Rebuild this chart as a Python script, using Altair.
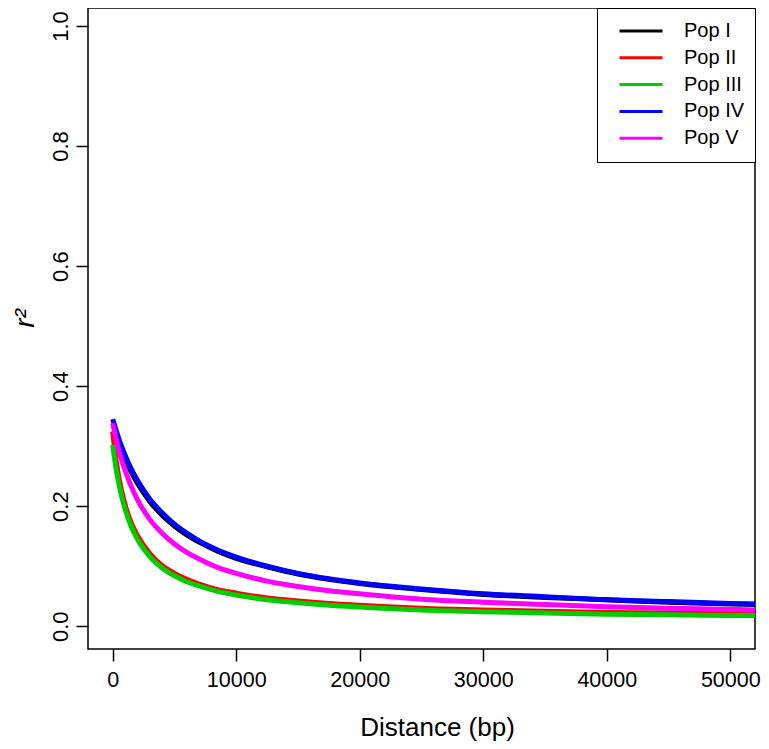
import altair as alt
import pandas as pd

distance = [0, 250, 500, 1000, 1500, 2000, 3000, 4000, 5000, 6000, 7000, 8500,
            10000, 12500, 15000, 17500, 20000, 25000, 30000, 35000, 40000, 45000,
            50000, 52000]
pop_i = [0.325, 0.314, 0.302, 0.279, 0.257, 0.238, 0.208, 0.185, 0.167, 0.152, 0.140, 0.125,
         0.113, 0.099, 0.087, 0.078, 0.071, 0.061, 0.053, 0.048, 0.044, 0.040, 0.037, 0.036]
pop_ii = [0.324, 0.280, 0.248, 0.203, 0.172, 0.151, 0.121, 0.101, 0.088, 0.078, 0.070, 0.061,
          0.055, 0.047, 0.042, 0.038, 0.035, 0.030, 0.027, 0.025, 0.023, 0.022, 0.021, 0.020]
pop_iii = [0.302, 0.265, 0.237, 0.195, 0.166, 0.145, 0.116, 0.097, 0.084, 0.074, 0.067, 0.058,
           0.052, 0.044, 0.039, 0.035, 0.032, 0.027, 0.024, 0.022, 0.020, 0.019, 0.018, 0.018]
pop_iv = [0.345, 0.328, 0.312, 0.285, 0.262, 0.243, 0.212, 0.189, 0.170, 0.155, 0.142, 0.127,
          0.115, 0.100, 0.088, 0.079, 0.072, 0.062, 0.054, 0.049, 0.044, 0.041, 0.038, 0.037]
pop_v = [0.338, 0.314, 0.293, 0.260, 0.233, 0.211, 0.178, 0.155, 0.137, 0.123, 0.112, 0.098,
         0.088, 0.075, 0.066, 0.059, 0.054, 0.045, 0.040, 0.036, 0.0325, 0.030, 0.028, 0.027]

series_names = ["Pop I", "Pop II", "Pop III", "Pop IV", "Pop V"]
series_colors = ["#000000", "#FF0000", "#00CD00", "#0000FF", "#FF00FF"]
x_ticks = [0, 10000, 20000, 30000, 40000, 50000]
y_ticks = [0.0, 0.2, 0.4, 0.6, 0.8, 1.0]

rows = []
for name, vals in zip(series_names, [pop_i, pop_ii, pop_iii, pop_iv, pop_v]):
    for i, (d, v) in enumerate(zip(distance, vals)):
        rows.append({"Distance": d, "r2": v, "Pop": name, "idx": i})
df = pd.DataFrame(rows)

FONT = "Liberation Sans"

chart = alt.Chart(df).mark_line(strokeWidth=5, interpolate="monotone", clip=True).encode(
    x=alt.X("Distance:Q",
            scale=alt.Scale(domain=[-2000, 52000], nice=False, zero=False),
            axis=alt.Axis(values=x_ticks, format="d", title="Distance (bp)",
                          titleX=349, titleY=86, titleBaseline="alphabetic",
                          titleAlign="center", titleAnchor="middle")),
    y=alt.Y("r2:Q",
            scale=alt.Scale(domain=[-0.038, 1.03], nice=False, zero=False),
            axis=alt.Axis(values=y_ticks, format=".1f", title="r²",
                          labelAngle=270, labelAlign="center", labelBaseline="alphabetic",
                          labelPadding=9, labelFontSize=22,
                          titleAngle=270, titleX=-55, titleY=310,
                          titleAlign="center", titleBaseline="alphabetic",
                          titleFontStyle="italic", titleFontSize=28)),
    color=alt.Color("Pop:N",
                    scale=alt.Scale(domain=series_names, range=series_colors),
                    legend=alt.Legend(title=None, orient="top-right", offset=0,
                                      symbolType="stroke", symbolSize=1849,
                                      symbolStrokeWidth=3, clipHeight=26,
                                      rowPadding=0.8, padding=10, symbolOffset=11,
                                      labelOffset=20, labelFont=FONT, labelFontSize=20,
                                      labelColor="black", strokeColor="black",
                                      fillColor="white", labelBaseline="middle")),
    order=alt.Order("idx:Q"),
).properties(
    width=667,
    height=641,
    autosize=alt.AutoSizeParams(type="none"),
    padding={"left": 80, "top": 0, "right": 6, "bottom": 92},
).configure_view(
    stroke="black", strokeWidth=1.5
).configure_axis(
    grid=False, domain=False, ticks=True, tickColor="black", tickWidth=1.5,
    tickSize=12, labelFont=FONT, labelFontSize=21.5, labelColor="black",
    titleFont=FONT, titleFontSize=26, titleColor="black", titleFontWeight="normal",
    labelPadding=8
)

chart.save("out.html", embed_options={"renderer": "svg", "actions": False})
